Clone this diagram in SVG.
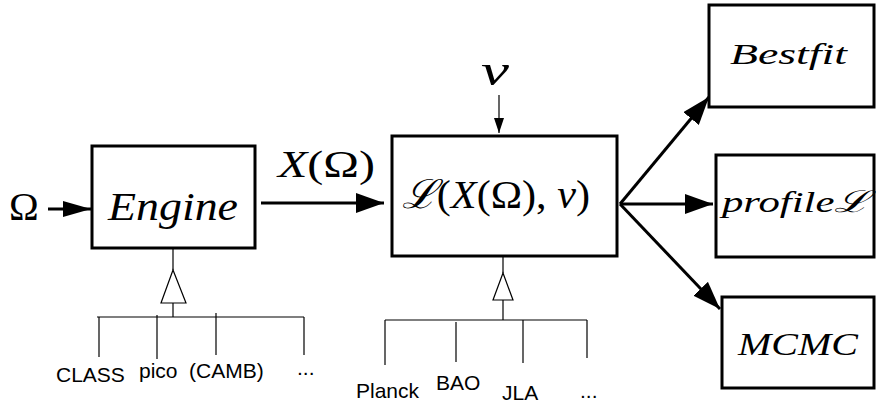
<svg xmlns="http://www.w3.org/2000/svg" width="876" height="404" viewBox="0 0 876 404">
<style>
.box{fill:#fff;stroke:#000;stroke-width:3}
.thick{stroke:#000;stroke-width:3;fill:none}
.thin{stroke:#000;stroke-width:1.2;fill:none}
.tri{fill:#fff;stroke:#000;stroke-width:1.2}
.m{font-family:"Liberation Serif","DejaVu Serif",serif;font-style:italic;fill:#000}
.u{font-style:normal}
.lbl{font-family:"Liberation Sans",Arial,sans-serif;font-size:21px;fill:#000}
</style>
<defs>
<marker id="ah" markerUnits="userSpaceOnUse" markerWidth="30" markerHeight="20" refX="28" refY="10" orient="auto">
<path d="M0,0 L28,10 L0,20 z" fill="#000"/>
</marker>
<marker id="ahs" markerUnits="userSpaceOnUse" markerWidth="30" markerHeight="16" refX="28" refY="8" orient="auto">
<path d="M0,0 L28,8 L0,16 z" fill="#000"/>
</marker>
<marker id="ahn" markerUnits="userSpaceOnUse" markerWidth="16" markerHeight="12" refX="15" refY="5" orient="auto">
<path d="M0,0 L15,5 L0,10 z" fill="#000"/>
</marker>
</defs>
<g id="connectors">
<line class="thick" x1="48" y1="209" x2="91" y2="209" marker-end="url(#ahs)"/>
<line class="thick" x1="261" y1="203" x2="384" y2="203" marker-end="url(#ah)"/>
<line class="thin" x1="499" y1="95" x2="499" y2="133" marker-end="url(#ahn)"/>
<line class="thick" x1="620" y1="204" x2="709" y2="97" marker-end="url(#ah)"/>
<line class="thick" x1="620" y1="204" x2="713" y2="204" marker-end="url(#ah)"/>
<line class="thick" x1="620" y1="204" x2="720" y2="309" marker-end="url(#ah)"/>
<line class="thin" x1="173" y1="249" x2="173" y2="270"/>
<polygon class="tri" points="173,270 161,303 186,303"/>
<line class="thin" x1="173" y1="303" x2="173" y2="317"/>
<line class="thin" x1="97" y1="317" x2="304" y2="317"/>
<line class="thin" x1="99" y1="317" x2="99" y2="357"/>
<line class="thin" x1="157" y1="315" x2="157" y2="359"/>
<line class="thin" x1="216" y1="313" x2="216" y2="355"/>
<line class="thin" x1="304" y1="317" x2="304" y2="355"/>
<line class="thin" x1="503" y1="257" x2="503" y2="273"/>
<polygon class="tri" points="503,273 493,300 513,300"/>
<line class="thin" x1="503" y1="300" x2="503" y2="320"/>
<line class="thin" x1="385" y1="320" x2="587" y2="320"/>
<line class="thin" x1="385" y1="320" x2="385" y2="365"/>
<line class="thin" x1="456" y1="322" x2="456" y2="362"/>
<line class="thin" x1="523" y1="320" x2="523" y2="363"/>
<line class="thin" x1="587" y1="320" x2="587" y2="358"/>
</g>
<g id="omega"><text class="m u" x="9" y="220" font-size="40">Ω</text></g>
<g id="xomega"><text class="m" x="278" y="177" font-size="38" textLength="97" lengthAdjust="spacingAndGlyphs">X<tspan class="u">(Ω)</tspan></text></g>
<g id="nu"><text class="m" x="481" y="85" font-size="44" textLength="28" lengthAdjust="spacingAndGlyphs">ν</text></g>
<g id="engine">
<rect class="box" x="92" y="146" width="163" height="102"/>
<text class="m" x="108" y="220" font-size="40" textLength="130" lengthAdjust="spacingAndGlyphs">Engine</text>
</g>
<g id="likelihood">
<rect class="box" x="392" y="136" width="225" height="120"/>
<text class="m" x="402" y="208" font-size="40" textLength="188" lengthAdjust="spacingAndGlyphs">ℒ<tspan class="u">(</tspan>X<tspan class="u">(Ω), </tspan>ν<tspan class="u">)</tspan></text>
</g>
<g id="bestfit">
<rect class="box" x="709" y="5" width="165" height="102"/>
<text class="m" x="730" y="64" font-size="30" textLength="117" lengthAdjust="spacingAndGlyphs">Bestfit</text>
</g>
<g id="profile">
<rect class="box" x="716" y="155" width="158" height="102"/>
<text class="m" x="722" y="212" font-size="30" textLength="148" lengthAdjust="spacingAndGlyphs">profileℒ</text>
</g>
<g id="mcmc">
<rect class="box" x="722" y="297" width="152" height="91"/>
<text class="m" x="738" y="355" font-size="31" textLength="120" lengthAdjust="spacingAndGlyphs">MCMC</text>
</g>
<g id="engines">
<text class="lbl" x="56" y="382">CLASS</text>
<text class="lbl" x="139" y="378">pico</text>
<text class="lbl" x="189" y="378">(CAMB)</text>
<text class="lbl" x="297" y="375">...</text>
</g>
<g id="data">
<text class="lbl" x="356" y="398">Planck</text>
<text class="lbl" x="436" y="390">BAO</text>
<text class="lbl" x="502" y="400">JLA</text>
<text class="lbl" x="580" y="398">...</text>
</g>
</svg>
